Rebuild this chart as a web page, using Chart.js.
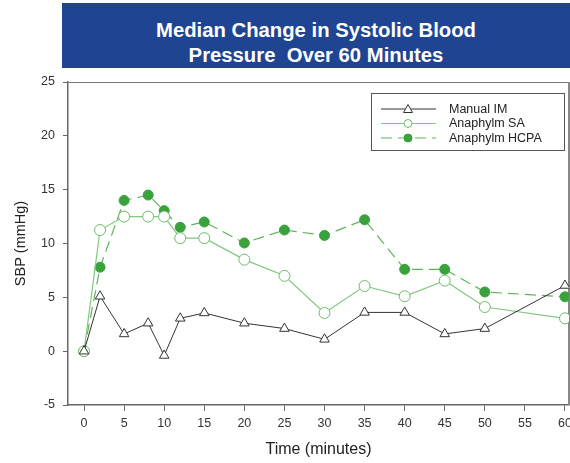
<!DOCTYPE html>
<html>
<head>
<meta charset="utf-8">
<script src="https://cdn.jsdelivr.net/npm/chart.js@4/dist/chart.umd.min.js"></script>
<style>
  html, body { margin: 0; padding: 0; background: #fff; }
  #wrap { position: relative; width: 570px; height: 463px; overflow: hidden; }
  #banner {
    position: absolute; left: 62px; top: 3px; width: 508px; height: 65px;
    background: #1f4592; color: #fff; text-align: center;
    font: bold 20.3px "Liberation Sans", Arial, sans-serif; line-height: 25px;
    padding-top: 15px; box-sizing: border-box; white-space: nowrap;
  }
  canvas { position: absolute; left: 0; top: 0; }
</style>
</head>
<body>
<div id="wrap">
  <canvas id="SBP_Canvas" width="580" height="463"></canvas>
  <div id="banner">Median Change in Systolic Blood<br>Pressure&nbsp; Over 60 Minutes</div>
</div>
<script>
// ── data ──────────────────────────────────────────────
const timePoints = [0, 2, 5, 8, 10, 12, 15, 20, 25, 30, 35, 40, 45, 50, 60];
const manualIM   = [0, 5.1, 1.6, 2.6, -0.4, 3.05, 3.55, 2.6, 2.1, 1.1, 3.6, 3.6, 1.6, 2.1, 6.1];
const anaSA      = [0, 11.25, 12.5, 12.5, 12.5, 10.5, 10.5, 8.5, 7.0, 3.55, 6.05, 5.1, 6.55, 4.1, 3.05];
const anaHCPA    = [0, 7.8, 14.0, 14.5, 13.05, 11.5, 12.0, 10.05, 11.25, 10.75, 12.2, 7.6, 7.6, 5.5, 5.05];
const xTicks     = [0, 5, 10, 15, 20, 25, 30, 35, 40, 45, 50, 55, 60];
const yTicks     = [-5, 0, 5, 10, 15, 20, 25];

const toXY = vals => vals.map((v, i) => ({ x: timePoints[i], y: v }));

const FONT = '"Liberation Sans", Arial, sans-serif';

// frame round the plot (top + right edges)
const frameBox = {
  id: 'frameBox',
  beforeDatasetsDraw(chart) {
    const { ctx: c, chartArea: a } = chart;
    c.save();
    c.strokeStyle = '#777'; c.lineWidth = 1;
    c.beginPath();
    c.moveTo(a.left, a.top + 0.5); c.lineTo(a.right, a.top + 0.5);
    c.stroke();
    c.lineWidth = 2; c.strokeStyle = '#888';
    c.beginPath();
    c.moveTo(a.right, a.top); c.lineTo(a.right, a.bottom);
    c.stroke();
    c.restore();
  }
};

// legend box drawn by hand so each entry gets line + marker
const legendBox = {
  id: 'legendBox',
  afterDraw(chart) {
    const c = chart.ctx;
    const x0 = 371, y0 = 93, w = 193, h = 57;
    c.save();
    c.strokeStyle = '#555'; c.lineWidth = 1;
    c.strokeRect(x0 + 0.5, y0 + 0.5, w, h);
    chart.data.datasets.forEach((ds, i) => {
      const y = y0 + 16 + i * 14.5;
      c.beginPath();
      c.setLineDash(ds.borderDash || []);
      c.strokeStyle = ds.borderColor; c.lineWidth = ds.borderWidth;
      c.moveTo(x0 + 10, y); c.lineTo(x0 + 65, y); c.stroke();
      c.setLineDash([]);
      const cx = x0 + 37;
      c.fillStyle = ds.pointBackgroundColor; c.strokeStyle = ds.pointBorderColor; c.lineWidth = 1;
      c.beginPath();
      if (ds.pointStyle === 'triangle') {
        c.moveTo(cx, y - 4.5); c.lineTo(cx + 4.5, y + 3.5); c.lineTo(cx - 4.5, y + 3.5); c.closePath();
      } else {
        c.arc(cx, y, 4, 0, Math.PI * 2);
      }
      c.fill(); c.stroke();
      c.fillStyle = '#222'; c.font = '12.5px ' + FONT; c.textBaseline = 'middle';
      c.fillText(ds.label, x0 + 78, y + 0.5);
    });
    c.restore();
  }
};

new Chart(document.getElementById('SBP_Canvas').getContext('2d'), {
  type: 'line',
  data: {
    datasets: [
      { label: 'Manual IM', data: toXY(manualIM),
        borderColor: '#333', borderWidth: 1, pointStyle: 'triangle', pointRadius: 5.5,
        pointBackgroundColor: '#fff', pointBorderColor: '#333', pointBorderWidth: 1 },
      { label: 'Anaphylm SA', data: toXY(anaSA),
        borderColor: '#82c77f', borderWidth: 1.2, pointStyle: 'circle', pointRadius: 5.5,
        pointBackgroundColor: '#fff', pointBorderColor: '#6dbb69', pointBorderWidth: 1 },
      { label: 'Anaphylm HCPA', data: toXY(anaHCPA), borderDash: [11, 6],
        borderColor: '#5fb25c', borderWidth: 1.2, pointStyle: 'circle', pointRadius: 5,
        pointBackgroundColor: '#3aa23c', pointBorderColor: '#3aa23c', pointBorderWidth: 1 },
    ],
  },
  options: {
    responsive: false, animation: false, devicePixelRatio: 1,
    layout: { padding: { left: 0, right: 11, top: 82, bottom: 0 } },
    plugins: { legend: { display: false }, tooltip: { enabled: false } },
    scales: {
      x: {
        type: 'linear', min: -2, max: 60.5,
        afterBuildTicks: s => { s.ticks = xTicks.map(v => ({ value: v })); },
        afterFit: s => { s.height = 58; },
        grid: { drawOnChartArea: false, drawTicks: true, tickLength: 6, color: '#666' },
        border: { color: '#666', width: 1.5 },
        ticks: { font: { size: 12.5, family: FONT }, color: '#333', padding: 5, maxRotation: 0 },
        title: { display: true, text: 'Time (minutes)', font: { size: 16, family: FONT }, color: '#222', padding: { top: 5 } },
      },
      y: {
        min: -5, max: 25,
        afterBuildTicks: s => { s.ticks = yTicks.map(v => ({ value: v })); },
        afterFit: s => { s.width = 68; },
        grid: { drawOnChartArea: false, drawTicks: true, tickLength: 5, color: '#666' },
        border: { color: '#666', width: 1.5 },
        ticks: { font: { size: 12.5, family: FONT }, color: '#333', padding: 8 },
        title: { display: true, text: 'SBP (mmHg)', font: { size: 14.5, family: FONT }, color: '#222', padding: { top: 12, bottom: 0 } },
      },
    },
  },
  plugins: [frameBox, legendBox],
});
</script>
</body>
</html>
